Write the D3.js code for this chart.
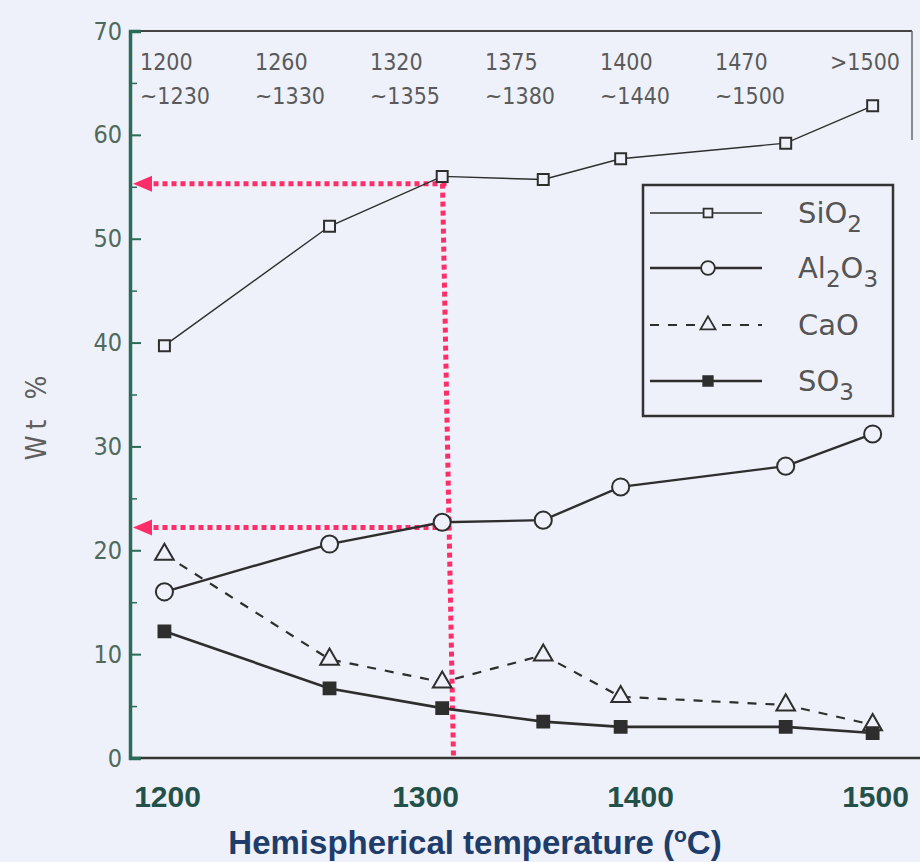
<!DOCTYPE html>
<html><head><meta charset="utf-8">
<script src="https://cdn.jsdelivr.net/npm/d3@7"></script>
<style>
html,body{margin:0;padding:0;background:#eef1f9;}
svg{display:block;}
</style></head>
<body>
<svg id="chart" width="920" height="862"></svg>
<script>
// ---- data ----
const catTop    = ["1200", "1260", "1320", "1375", "1400", "1470", ">1500"];
const catBottom = ["~1230", "~1330", "~1355", "~1380", "~1440", "~1500", ""];
const temps = [1199, 1263, 1308, 1355, 1391, 1462, 1499];   // plotted position, °C
const sio2  = [39.7, 51.2, 56.0, 55.7, 57.7, 59.2, 62.8];
const al2o3 = [16.0, 20.6, 22.7, 22.9, 26.1, 28.1, 31.2];
const cao   = [19.6, 9.5, 7.3, 9.9, 5.9, 5.1, 3.2];
const so3   = [12.2, 6.7, 4.8, 3.5, 3.0, 3.0, 2.4];
const xTicks = [1200, 1300, 1400, 1500];
const yTicks = [0, 10, 20, 30, 40, 50, 60, 70];
const yMinor = [5, 15, 25, 35, 45, 55, 65];
const refValues = [55.3, 22.2];   // red arrows (wt%)
const refTemp = 1310;             // red vertical (°C)

(function () {
// ---- layout ----
const svg = d3.select("#chart");
const pL = 130, pR = 912, pT = 31, pB = 758;
const x = d3.scaleLinear().domain(xTicks).range([167, 425, 640, 875]);
const y = d3.scaleLinear().domain([0, 70]).range([pB, pT]);
const catX = d3.scalePoint().domain(catTop).range([140, 830]);
const bg = "#eef1f9";
const ink = "#2e2e2e";

// frame top & right
svg.append("line").attr("x1", pL).attr("x2", pR).attr("y1", pT).attr("y2", pT)
  .attr("stroke", "#444").attr("stroke-width", 2);
svg.append("line").attr("x1", pR).attr("x2", pR).attr("y1", pT).attr("y2", 140)
  .attr("stroke", "#666").attr("stroke-width", 1.5);
// bottom baseline
svg.append("line").attr("x1", pL).attr("x2", 920).attr("y1", y(0)).attr("y2", y(0))
  .attr("stroke", "#333").attr("stroke-width", 2.5);

// y axis
const yAxis = svg.append("g").attr("transform", `translate(${pL},0)`)
  .call(d3.axisLeft(y).tickValues(yTicks).tickSize(-11).tickPadding(8).tickFormat(d3.format("d")));
yAxis.select(".domain").attr("stroke", "#2c6b58").attr("stroke-width", 3.5);
yAxis.selectAll(".tick line").attr("stroke", "#2c6b58").attr("stroke-width", 2);
yAxis.selectAll(".tick text").attr("fill", "#4f6a5c")
  .style("font-family", "'DejaVu Sans Condensed','Liberation Sans Narrow',sans-serif")
  .style("font-size", "25px");
const yAxis2 = svg.append("g").attr("transform", `translate(${pL},0)`)
  .call(d3.axisLeft(y).tickValues(yMinor).tickSize(-7).tickFormat(""));
yAxis2.select(".domain").remove();
yAxis2.selectAll(".tick line").attr("stroke", "#2c6b58").attr("stroke-width", 1.5);

// x axis labels
const xAxis = svg.append("g").attr("transform", `translate(0,${y(0)})`)
  .call(d3.axisBottom(x).tickValues(xTicks).tickSize(0).tickPadding(28).tickFormat(d3.format("d")));
xAxis.select(".domain").remove();
xAxis.selectAll(".tick text").attr("fill", "#23514a")
  .style("font-family", "'Liberation Sans',Arial,sans-serif")
  .style("font-weight", "bold").style("font-size", "30px");

// axis titles
const xt = svg.append("text").attr("x", 475).attr("y", 854).attr("text-anchor", "middle")
  .attr("fill", "#1f3d6a").style("font-family", "'Liberation Sans',Arial,sans-serif")
  .style("font-weight", "bold").style("font-size", "33px");
xt.append("tspan").text("Hemispherical temperature (");
xt.append("tspan").attr("dy", -12).style("font-size", "21px").text("o");
xt.append("tspan").attr("dy", 12).text("C)");

svg.append("text").attr("transform", "translate(46,415) rotate(-90)")
  .attr("text-anchor", "middle").attr("fill", "#5e5e5e")
  .style("font-family", "'DejaVu Sans Condensed','DejaVu Sans',sans-serif")
  .style("font-size", "28px").style("letter-spacing", "6px").text("Wt %");

// top category labels
const catFont = "'DejaVu Sans Condensed','Liberation Sans Narrow',sans-serif";
svg.append("g").selectAll("text").data(catTop).join("text")
  .attr("x", d => catX(d)).attr("y", 70).attr("fill", "#5a5a5a")
  .style("font-family", catFont).style("font-size", "23px").text(d => d);
svg.append("g").selectAll("text").data(catBottom).join("text")
  .attr("x", (d, i) => catX(catTop[i])).attr("y", 104).attr("fill", "#5a5a5a")
  .style("font-family", catFont).style("font-size", "23px").text(d => d);

// red reference arrows
const red = "#ff2d68";
const xr = x(refTemp);
refValues.forEach(v => {
  svg.append("line").attr("x1", xr).attr("x2", pL + 20).attr("y1", y(v)).attr("y2", y(v))
    .attr("stroke", red).attr("stroke-width", 5).attr("stroke-dasharray", "5,4");
  svg.append("path")
    .attr("d", `M${pL + 3},${y(v)} L${pL + 22},${y(v) - 8} L${pL + 22},${y(v) + 8} Z`)
    .attr("fill", red);
});
svg.append("line").attr("x1", xr - 4).attr("x2", xr + 7).attr("y1", y(refValues[0])).attr("y2", y(0))
  .attr("stroke", red).attr("stroke-width", 5).attr("stroke-dasharray", "5,4");

// series
const series = [
  { name: "SiO", sub: "2", vals: sio2, width: 1.4, dash: null, sym: d3.symbolSquare, size: 120, fill: "none" },
  { name: "Al", sub: "2", name2: "O", sub2: "3", vals: al2o3, width: 2.4, dash: null, sym: d3.symbolCircle, size: 230, fill: "none" },
  { name: "CaO", sub: "", vals: cao, width: 2.2, dash: "9,9", sym: d3.symbolTriangle, size: 150, fill: "none" },
  { name: "SO", sub: "3", vals: so3, width: 2.6, dash: null, sym: d3.symbolSquare, size: 140, fill: ink }
];
const line = d3.line().x(d => x(d[0])).y(d => y(d[1]));
series.forEach(s => {
  const pts = temps.map((t, i) => [t, s.vals[i]]);
  svg.append("path").datum(pts).attr("d", line).attr("fill", "none")
    .attr("stroke", ink).attr("stroke-width", s.width)
    .attr("stroke-dasharray", s.dash);
  svg.append("g").selectAll("path").data(pts).join("path")
    .attr("transform", d => `translate(${x(d[0])},${y(d[1])})`)
    .attr("d", d3.symbol().type(s.sym).size(s.size))
    .attr("fill", s.fill === "none" ? bg : s.fill)
    .attr("stroke", ink).attr("stroke-width", 2);
});

// legend
const lg = svg.append("g");
lg.append("rect").attr("x", 643).attr("y", 185).attr("width", 250).attr("height", 231)
  .attr("fill", bg).attr("stroke", "#333").attr("stroke-width", 2.5);
const rowY = [213, 268, 325, 381];
series.forEach((s, i) => {
  const ry = rowY[i];
  lg.append("line").attr("x1", 650).attr("x2", 762).attr("y1", ry).attr("y2", ry)
    .attr("stroke", ink).attr("stroke-width", s.width).attr("stroke-dasharray", s.dash);
  lg.append("path").attr("transform", `translate(708,${ry})`)
    .attr("d", d3.symbol().type(s.sym).size(s.size * 0.65))
    .attr("fill", s.fill === "none" ? bg : s.fill)
    .attr("stroke", ink).attr("stroke-width", 1.8);
  const t = lg.append("text").attr("x", 798).attr("y", ry + 10).attr("fill", "#555")
    .style("font-family", "'DejaVu Sans','Liberation Sans',sans-serif").style("font-size", "29px");
  t.append("tspan").text(s.name);
  if (s.sub) t.append("tspan").attr("dy", 9).style("font-size", "23px").text(s.sub);
  if (s.name2) {
    t.append("tspan").attr("dy", -9).text(s.name2);
    t.append("tspan").attr("dy", 9).style("font-size", "23px").text(s.sub2);
  }
});
})();
</script>
</body></html>
